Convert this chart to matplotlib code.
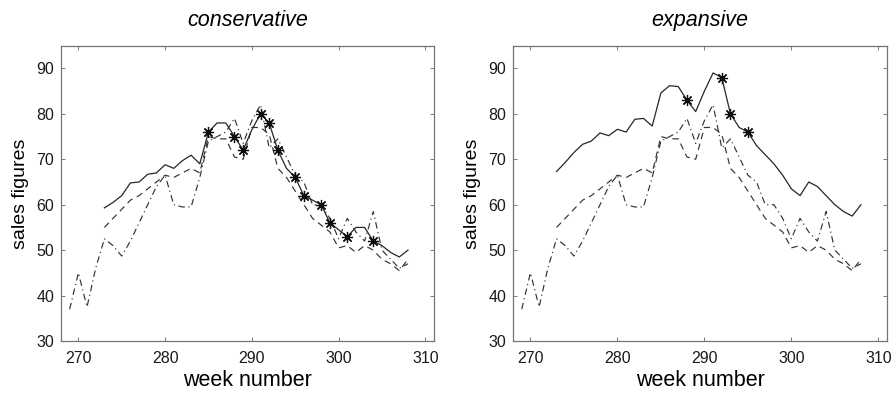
import matplotlib.pyplot as plt
import numpy as np

plt.rcParams['font.family'] = ['Liberation Sans', 'DejaVu Sans']

# shared series (dashed and dash-dot appear in both panels)
weeks_dashed = list(range(273, 309))
dashed = [55, 57, 59, 61, 62, 63.5, 65, 66.5, 66, 67, 68, 67, 75, 74.5, 74.5, 70.5,
          70, 77, 77, 75.5, 68, 66, 63, 60, 57, 55.5, 54, 50.5, 51, 49.5, 51, 50,
          48, 47, 45.5, 48]

weeks_dashdot = list(range(269, 309))
dashdot = [37, 45, 37.5, 46, 52.5, 51, 48.7, 52, 56, 60, 64, 66.5, 60, 59.5, 59.5, 66,
           74, 75, 76, 79, 73.5, 78.5, 82, 72.5, 74.5, 70.5, 66.5, 65, 60, 60, 57,
           52.5, 57, 54, 52, 58.5, 50, 48, 46, 47]

# solid forecasts
weeks_solid = list(range(273, 309))
conservative = [59.3, 60.5, 62, 64.8, 65, 66.7, 67, 68.8, 68, 69.7, 70.9, 69, 76, 78,
                78, 75, 72, 76.5, 80, 78, 72, 68, 66, 62, 61, 60, 56, 54.5, 53, 55,
                55, 52, 51, 49.5, 48.5, 50]
expansive = [67.3, 69.3, 71.5, 73.3, 74, 75.8, 75.2, 76.6, 76, 78.8, 79, 77.3, 84.6,
             86.2, 86, 83, 80.5, 85, 89, 88, 80, 77, 76, 73, 71, 69, 66.5, 63.5, 62,
             65, 64, 62, 60, 58.5, 57.5, 60]

# weeks marked with asterisks on the solid line
stars_conservative = [285, 288, 289, 291, 292, 293, 295, 296, 298, 299, 301, 304]
stars_expansive = [288, 292, 293, 295]

panels = [('conservative', conservative, stars_conservative),
          ('expansive', expansive, stars_expansive)]

fig = plt.figure(figsize=(8.93, 3.94), dpi=100)
rects = [[0.0683, 0.1345, 0.4177, 0.7495], [0.5745, 0.1345, 0.4188, 0.7495]]

for rect, (title, solid, stars) in zip(rects, panels):
    ax = fig.add_axes(rect)
    ax.plot(weeks_dashed, dashed, color='0.2', lw=0.85, dashes=(5.5, 4))
    ax.plot(weeks_dashdot, dashdot, color='0.2', lw=0.85, dashes=(5.5, 3, 1, 3))
    ax.plot(weeks_solid, solid, color='0.15', lw=0.9)
    sy = [solid[weeks_solid.index(w)] for w in stars]
    ax.plot(stars, sy, ls='none', marker=(8, 2, 0), ms=8, mec='0.05', mew=0.9)
    ax.set_xlim(268, 311)
    ax.set_ylim(30, 95)
    ax.set_xticks([270, 280, 290, 300, 310])
    ax.set_yticks([30, 40, 50, 60, 70, 80, 90])
    ax.tick_params(direction='in', length=3, width=0.6, top=True, right=True,
                   labelsize=11.5, colors='0.4', labelcolor='0.1', pad=5)
    ax.tick_params(axis='x', pad=7)
    for s in ax.spines.values():
        s.set_color('0.45')
        s.set_linewidth(0.9)
    ax.set_title(title, fontstyle='italic', fontsize=15.5, pad=14)
    ax.set_xlabel('week number', fontsize=15.5, labelpad=3)
    ax.set_ylabel('sales figures', fontsize=14, labelpad=5)

fig.savefig('out.png', dpi=100)
